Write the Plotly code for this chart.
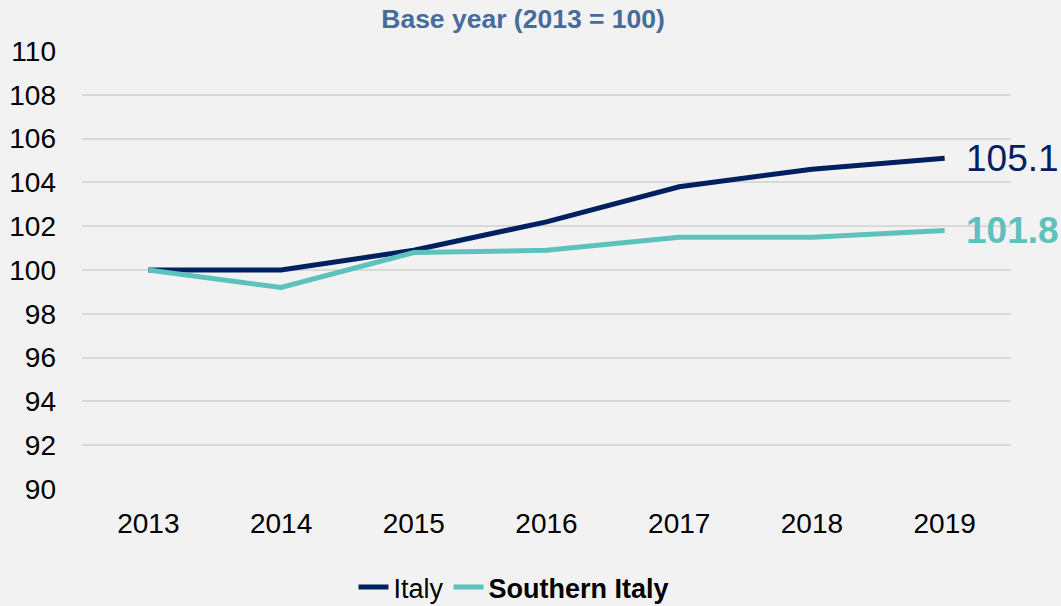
import plotly.graph_objects as go

years = [2013, 2014, 2015, 2016, 2017, 2018, 2019]
italy = [100.0, 100.0, 100.9, 102.2, 103.8, 104.6, 105.1]
southern = [100.0, 99.2, 100.8, 100.9, 101.5, 101.5, 101.8]
y_ticks = [90, 92, 94, 96, 98, 100, 102, 104, 106, 108, 110]

NAVY = "#002060"
TEAL = "#5DC1BC"
FONT = "Liberation Sans, Arial, sans-serif"

fig = go.Figure()
fig.add_trace(go.Scatter(x=years, y=italy, mode="lines", name="Italy",
                         line=dict(color=NAVY, width=5)))
fig.add_trace(go.Scatter(x=years, y=southern, mode="lines", name="<b>Southern Italy</b>",
                         line=dict(color=TEAL, width=5)))

fig.add_annotation(x=years[-1], y=italy[-1], text=f"{italy[-1]:.1f}", showarrow=False,
                   xanchor="left", xshift=19, font=dict(size=37, color=NAVY, family=FONT))
fig.add_annotation(x=years[-1], y=southern[-1], text=f"<b>{southern[-1]:.1f}</b>", showarrow=False,
                   xanchor="left", xshift=19, font=dict(size=37, color=TEAL, family=FONT))

fig.update_layout(
    width=1061, height=606,
    paper_bgcolor="#F2F2F2", plot_bgcolor="#F2F2F2",
    margin=dict(l=82, r=50, t=51, b=117, autoexpand=False),
    font=dict(family=FONT, size=28, color="#000000"),
    title=dict(text="<b>Base year (2013 = 100)</b>", x=0.493, xanchor="center",
               y=1 - 19 / 606, yanchor="middle", font=dict(size=26.5, color="#456C9C", family=FONT)),
    xaxis=dict(range=[2012.5, 2019.5], tickvals=years, tickformat="d", showgrid=False,
               zeroline=False, showline=False, ticks="", ticklabelstandoff=15,
               tickfont=dict(size=28), automargin=False),
    yaxis=dict(range=[90, 110], tickvals=y_ticks, showgrid=True, gridcolor="#D9D9D9",
               gridwidth=1.5, zeroline=False, showline=False, ticks="",
               ticklabelstandoff=25, tickfont=dict(size=28), automargin=False),
    legend=dict(orientation="h", x=0.465, xanchor="center", y=-0.225, yanchor="middle",
                font=dict(size=27), bgcolor="rgba(0,0,0,0)"),
    showlegend=True,
)

fig.write_html("out.html", config={"displayModeBar": False},
               post_script="document.body.style.margin='0';document.body.style.background='#F2F2F2';")
